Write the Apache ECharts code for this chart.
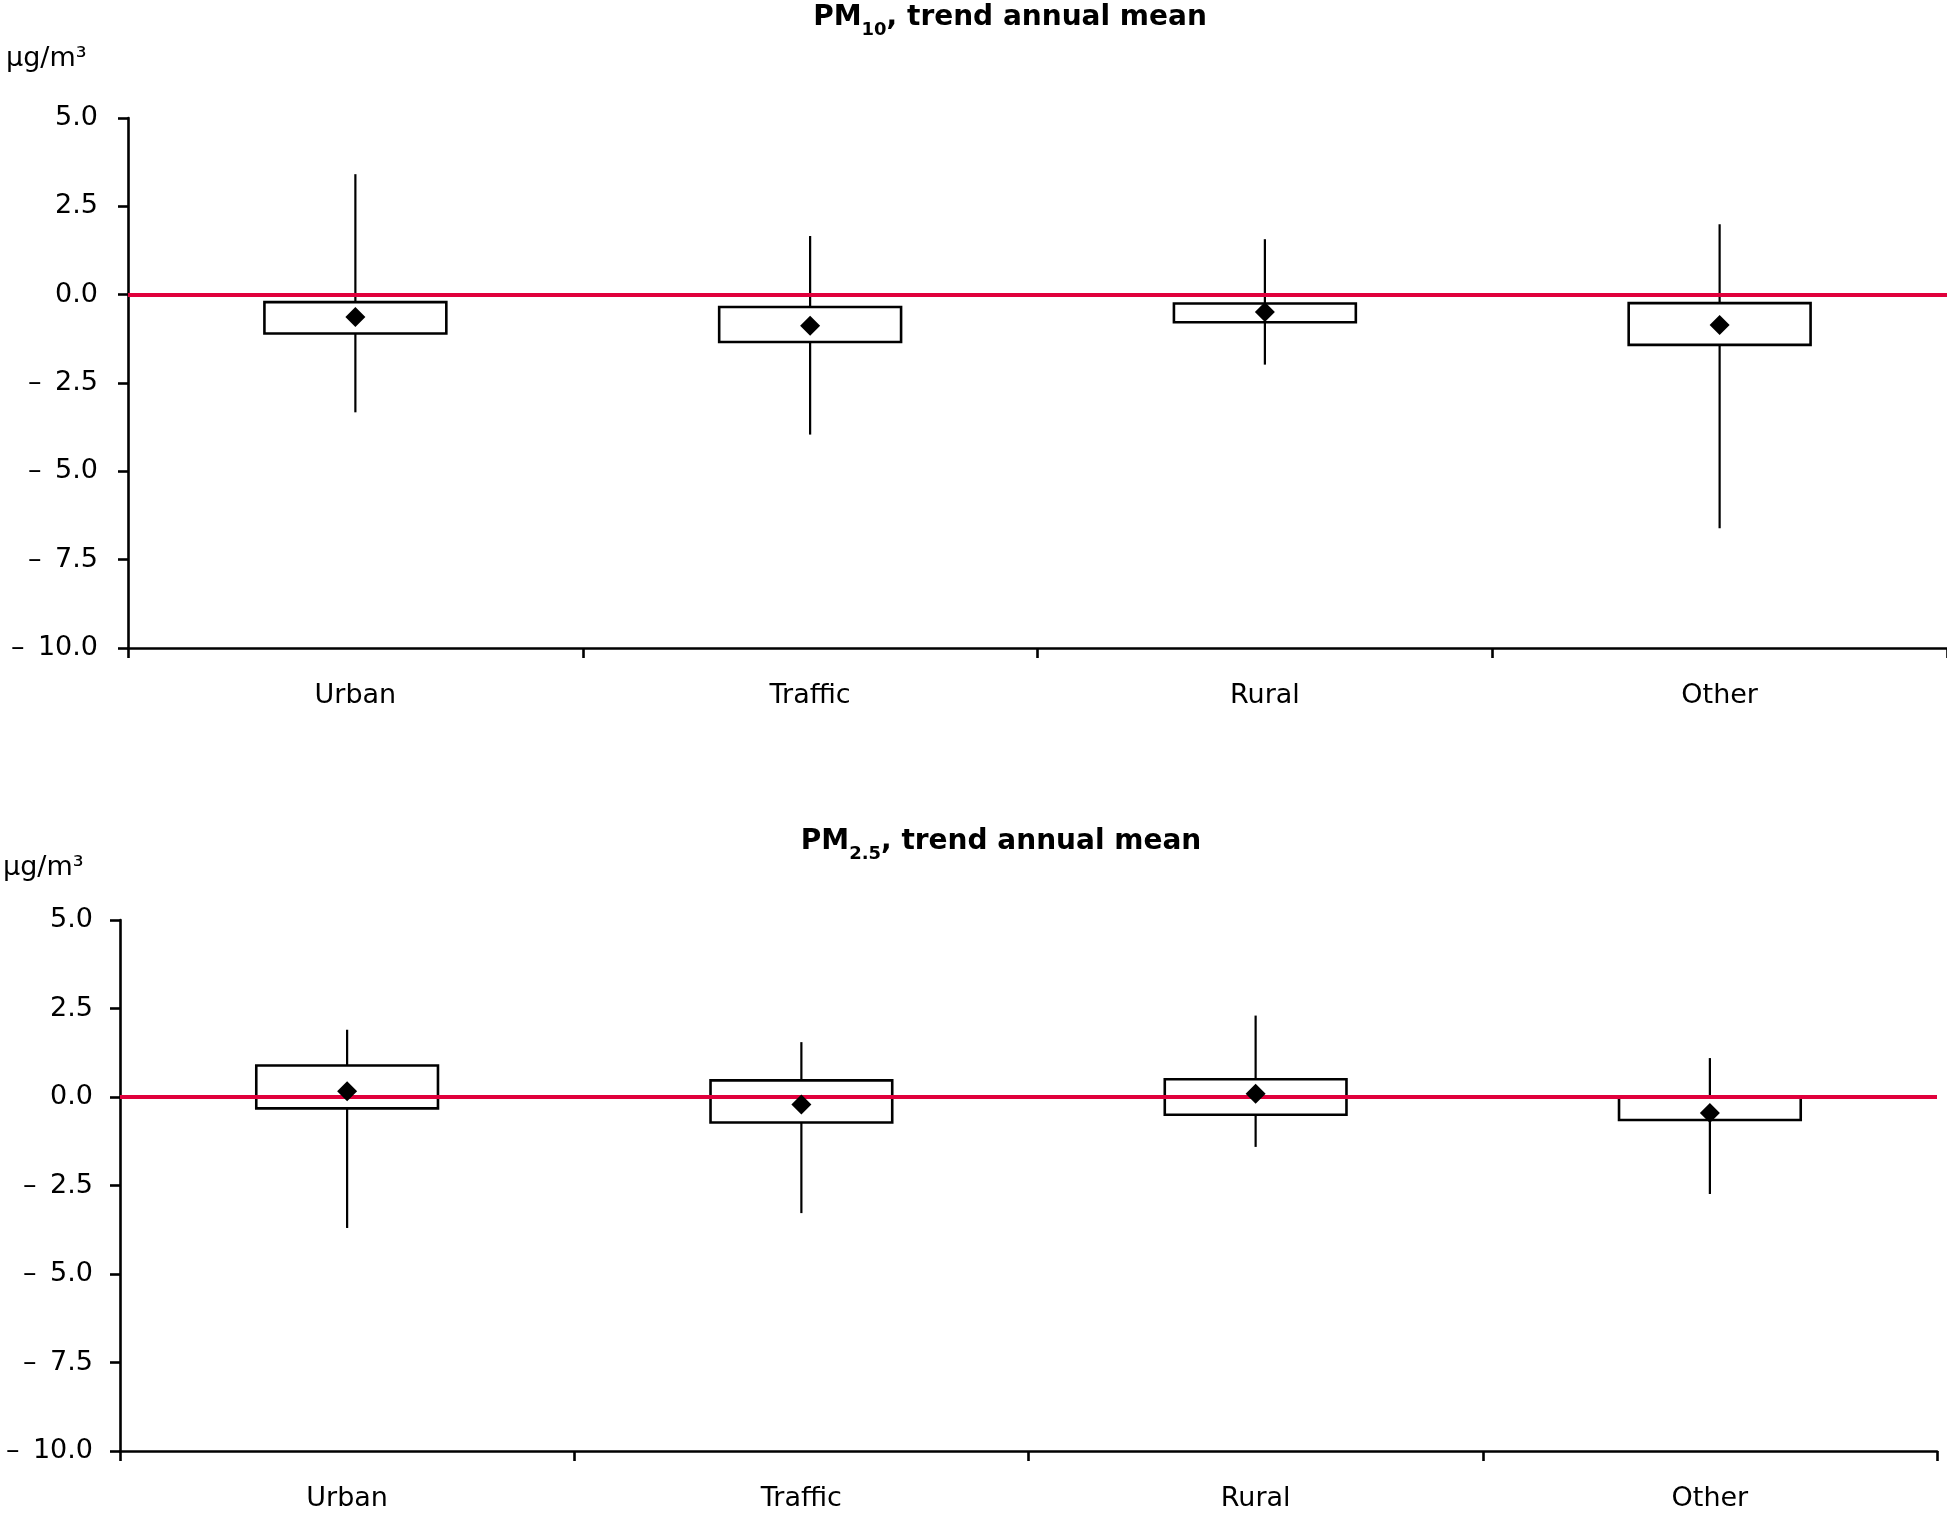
<!DOCTYPE html>
<html>
<head>
<meta charset="utf-8">
<script src="https://cdn.jsdelivr.net/npm/echarts@6/dist/echarts.min.js"></script>
<style>
html,body{margin:0;padding:0;background:#fff;}
#chart{width:1947px;height:1515px;}
</style>
</head>
<body>
<div id="chart"></div>
<script>
// ---- data ----
const categories = ['Urban', 'Traffic', 'Rural', 'Other'];
const yTickLabels = ['–\u200210.0', '–\u20027.5', '–\u20025.0', '–\u20022.5', '0.0', '2.5', '5.0'];
const yMin = -10, yMax = 5, yInterval = 2.5;

// PM10 trend annual mean (µg/m3)
const pm10Low  = [-3.33, -3.96, -1.98, -6.61];
const pm10Q1   = [-1.10, -1.34, -0.78, -1.42];
const pm10Q3   = [-0.21, -0.35, -0.25, -0.24];
const pm10High = [ 3.41,  1.66,  1.57,  1.99];
const pm10Mean = [-0.63, -0.88, -0.49, -0.86];

// PM2.5 trend annual mean (µg/m3)
const pm25Low  = [-3.70, -3.28, -1.41, -2.74];
const pm25Q1   = [-0.32, -0.72, -0.50, -0.65];
const pm25Q3   = [ 0.89,  0.47,  0.50,  0.00];
const pm25High = [ 1.90,  1.55,  2.30,  1.10];
const pm25Mean = [ 0.16, -0.21,  0.09, -0.45];

// ---- styling ----
const FONT = 'Verdana, "DejaVu Sans", sans-serif';
const RED = '#E0003C';

function renderBox(params, api) {
  const x = api.value(0);
  const low = api.coord([x, api.value(1)]);
  const q1 = api.coord([x, api.value(2)]);
  const q3 = api.coord([x, api.value(3)]);
  const high = api.coord([x, api.value(4)]);
  const w = api.size([1, 0])[0] * 0.4;
  return {
    type: 'group',
    children: [
      { type: 'line', shape: { x1: low[0], y1: low[1], x2: high[0], y2: high[1] },
        style: { stroke: '#000', lineWidth: 2.2 } },
      { type: 'rect', shape: { x: q3[0] - w / 2, y: q3[1], width: w, height: q1[1] - q3[1] },
        style: { fill: '#fff', stroke: '#000', lineWidth: 2.6 } }
    ]
  };
}

function boxData(low, q1, q3, high) {
  return categories.map((c, i) => [i, low[i], q1[i], q3[i], high[i]]);
}
function meanData(mean) {
  return categories.map((c, i) => [i, mean[i]]);
}

function yAxisFor(gridIndex, margin) {
  return {
    gridIndex: gridIndex, type: 'value', min: yMin, max: yMax, interval: yInterval,
    splitLine: { show: false },
    axisLine: { show: true, lineStyle: { color: '#000', width: 2.6 } },
    axisTick: { show: true, length: 10, lineStyle: { color: '#000', width: 2.6 } },
    axisLabel: {
      margin: margin, color: '#000', fontFamily: FONT, fontSize: 27,
      formatter: v => yTickLabels[Math.round((v - yMin) / yInterval)]
    }
  };
}
function xAxisFor(gridIndex) {
  return {
    gridIndex: gridIndex, type: 'category', data: categories, boundaryGap: true,
    axisLine: { onZero: false, lineStyle: { color: '#000', width: 2.6 } },
    axisTick: { show: true, length: 10, alignWithLabel: false, lineStyle: { color: '#000', width: 2.6 } },
    axisLabel: { margin: 33, color: '#000', fontFamily: FONT, fontSize: 27, lineHeight: 30 },
    splitLine: { show: false }
  };
}

const titleRich = {
  m: { fontFamily: FONT, fontWeight: 'bold', fontSize: 28, color: '#000', lineHeight: 32 },
  sub: { fontFamily: FONT, fontWeight: 'bold', fontSize: 18, color: '#000', lineHeight: 32, padding: [24, 0, 0, 0] }
};

const chart = echarts.init(document.getElementById('chart'), null, { renderer: 'canvas' });
chart.setOption({
  animation: false,
  backgroundColor: '#fff',
  title: [
    { text: '{m|PM}{sub|10}{m|, trend annual mean}', left: 1010, top: 2, textAlign: 'center', padding: 0,
      textStyle: { rich: titleRich } },
    { text: '{m|PM}{sub|2.5}{m|, trend annual mean}', left: 1001, top: 826, textAlign: 'center', padding: 0,
      textStyle: { rich: titleRich } }
  ],
  graphic: [
    { type: 'text', left: 6, top: 45, style: { text: 'µg/m³', font: '27px ' + FONT, fill: '#000' } },
    { type: 'text', left: 3, top: 854, style: { text: 'µg/m³', font: '27px ' + FONT, fill: '#000' } }
  ],
  grid: [
    { left: 128, right: 0, top: 118, height: 530 },
    { left: 120, right: 10, top: 920, height: 531 }
  ],
  xAxis: [xAxisFor(0), xAxisFor(1)],
  yAxis: [yAxisFor(0, 30), yAxisFor(1, 27)],
  series: [
    { type: 'custom', xAxisIndex: 0, yAxisIndex: 0, renderItem: renderBox, z: 2,
      encode: { x: 0, y: [1, 2, 3, 4] }, data: boxData(pm10Low, pm10Q1, pm10Q3, pm10High),
      markLine: { silent: true, symbol: 'none', z: 5, label: { show: false },
        lineStyle: { color: RED, width: 4, type: 'solid' }, data: [{ yAxis: 0 }] } },
    { type: 'scatter', xAxisIndex: 0, yAxisIndex: 0, symbol: 'diamond', symbolSize: 20, z: 10,
      itemStyle: { color: '#000', opacity: 1 }, data: meanData(pm10Mean) },
    { type: 'custom', xAxisIndex: 1, yAxisIndex: 1, renderItem: renderBox, z: 2,
      encode: { x: 0, y: [1, 2, 3, 4] }, data: boxData(pm25Low, pm25Q1, pm25Q3, pm25High),
      markLine: { silent: true, symbol: 'none', z: 5, label: { show: false },
        lineStyle: { color: RED, width: 4, type: 'solid' }, data: [{ yAxis: 0 }] } },
    { type: 'scatter', xAxisIndex: 1, yAxisIndex: 1, symbol: 'diamond', symbolSize: 20, z: 10,
      itemStyle: { color: '#000', opacity: 1 }, data: meanData(pm25Mean) }
  ]
});
</script>
</body>
</html>
